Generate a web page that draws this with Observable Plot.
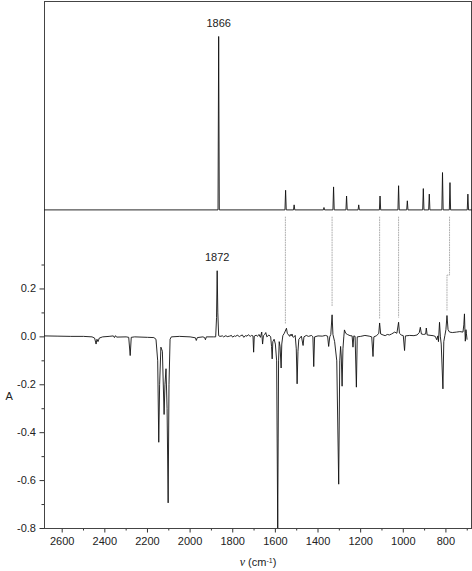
<!DOCTYPE html>
<html><head><meta charset="utf-8">
<script src="https://cdn.jsdelivr.net/npm/d3@7"></script>
<script src="https://cdn.jsdelivr.net/npm/@observablehq/plot@0.6"></script>
<style>body{margin:0;background:#fff}</style>
</head><body><div id="chart"></div>
<script>
// Calculated spectrum (top trace): peak positions (cm-1) and heights above its baseline
const calcBase = 0.53;
const calcV = [1866, 1552, 1512, 1372, 1327, 1266, 1209, 1109, 1022, 981, 906, 878, 816, 781, 697];
const calcH = [0.724, 0.082, 0.021, 0.010, 0.096, 0.058, 0.021, 0.058, 0.101, 0.038, 0.089, 0.066, 0.156, 0.114, 0.066];

// Experimental difference spectrum (bottom trace)
const expV = [2683,2620,2560,2500,2460,2448,2441,2437,2432,2426,2410,2380,2360,2355,2350,2345,2300,2288,2281,2276,2260,2200,2170,2160,2152,2147,2143,2137,2130,2122,2118,2113,2108,2103,2099,2094,2088,2050,2000,1975,1971,1966,1940,1932,1928,1924,1890,1880,1876,1873,1870,1866,1860,1848,1843,1832,1826,1815,1806,1801,1792,1786,1779,1768,1764,1755,1748,1741,1733,1727,1718,1712,1705,1702,1699,1690,1684,1677,1670,1664,1660,1656,1650,1645,1640,1630,1622,1618,1615,1612,1606,1600,1594,1589,1585,1582,1578,1573,1570,1565,1558,1548,1544,1538,1533,1530,1526,1522,1518,1515,1507,1502,1498,1494,1490,1485,1478,1470,1466,1455,1445,1430,1424,1420,1416,1400,1380,1365,1355,1350,1345,1340,1334,1330,1322,1312,1303,1298,1294,1291,1287,1283,1279,1276,1270,1262,1250,1240,1236,1232,1226,1220,1216,1200,1180,1160,1148,1142,1138,1125,1115,1111,1106,1095,1085,1075,1065,1055,1040,1030,1022,1018,1010,1000,994,990,970,950,935,925,920,915,905,895,892,888,870,860,850,843,838,835,830,826,822,814,810,805,800,795,790,783,770,750,735,720,716,713,711,709,706,704,701];
const expA = [0.004,0.003,0.002,0.002,0.000,-0.005,-0.030,-0.010,-0.020,-0.005,0.000,0.002,0.004,-0.003,0.005,-0.001,0.000,-0.002,-0.078,-0.002,0.000,-0.002,-0.003,-0.010,-0.100,-0.440,-0.200,-0.043,-0.060,-0.324,-0.200,-0.133,-0.300,-0.693,-0.200,-0.010,0.000,0.002,0.000,-0.004,-0.015,-0.003,0.000,-0.003,-0.012,0.000,0.000,0.000,0.080,0.276,0.100,0.005,0.002,0.004,0.000,0.005,0.001,0.003,0.006,-0.001,0.004,0.002,0.007,0.001,0.004,0.008,-0.002,0.005,0.003,0.009,0.002,0.006,0.004,-0.064,0.003,0.007,0.002,0.010,-0.002,0.020,-0.030,0.005,0.010,0.018,0.000,0.008,0.000,-0.040,-0.092,-0.020,-0.010,-0.030,-0.100,-0.800,-0.100,-0.020,-0.040,-0.130,-0.030,0.005,0.015,0.036,0.015,0.008,0.002,0.010,0.004,0.012,0.000,-0.002,0.006,-0.050,-0.196,-0.060,-0.010,-0.005,0.003,-0.036,0.000,0.006,0.002,0.006,0.000,-0.124,0.000,0.004,0.003,0.006,0.003,-0.040,0.000,0.010,0.092,0.010,-0.020,-0.100,-0.615,-0.100,-0.040,-0.080,-0.206,-0.050,0.000,0.029,0.015,0.010,0.005,0.004,-0.043,0.004,0.002,-0.210,0.000,0.002,0.006,0.003,0.000,-0.082,0.000,0.005,0.015,0.058,0.012,0.008,0.005,0.010,0.008,0.012,0.020,0.015,0.061,0.015,0.008,0.005,-0.057,0.004,0.006,0.005,0.008,0.018,0.040,0.012,0.010,0.012,0.037,0.008,0.006,0.005,0.002,-0.012,0.004,-0.020,0.061,0.000,-0.030,-0.217,-0.020,0.005,0.030,0.089,0.030,0.020,0.018,0.020,0.022,0.020,0.050,0.096,0.030,-0.018,0.030,0.015,-0.010];

// Dotted correlation lines between the two traces
const linkTopV = [1553, 1334, 1111, 1022, 783];
const linkBotV = [1553, 1334, 1111, 1022, 795];
const linkTopA = 0.50;
const linkBreakA = [0.054, 0.126, 0.078, 0.082, 0.258];
const linkEndA = [0.054, 0.126, 0.078, 0.082, 0.112];

// Peak labels
const peakLabels = ["1866", "1872"];
const peakLabelV = [1866, 1873];
const peakLabelA = [1.254, 0.276];

// Axes
const xMajor = [2600, 2400, 2200, 2000, 1800, 1600, 1400, 1200, 1000, 800];
const xMinor = [2500, 2300, 2100, 1900, 1700, 1500, 1300, 1100, 900, 700];
const yMajor = [-0.8, -0.6, -0.4, -0.2, 0.0, 0.2];
const yMinor = [-0.7, -0.5, -0.3, -0.1, 0.1, 0.3];
const xLabel = "ν (cm⁻¹)";
const yLabel = "A";

// Tables built from the arrays
const calc = [];
calcV.forEach((v, i) => {
  calc.push({v: v + 3, a: calcBase}, {v, a: calcBase + calcH[i]}, {v: v - 3, a: calcBase});
});
calc.unshift({v: 2683, a: calcBase});
calc.push({v: 680, a: calcBase});
const exp = expV.map((v, i) => ({v, a: expA[i]}));
const links = [];
linkTopV.forEach((v, i) => {
  links.push({k: i, v, a: linkTopA}, {k: i, v, a: linkBreakA[i]},
             {k: i, v: linkBotV[i], a: linkBreakA[i]}, {k: i, v: linkBotV[i], a: linkEndA[i]});
});
const labels = peakLabels.map((t, i) => ({t, v: peakLabelV[i], a: peakLabelA[i]}));

const chart = Plot.plot({
  width: 472, height: 571,
  marginLeft: 44, marginRight: 1, marginTop: 1, marginBottom: 43,
  x: {domain: [2683, 680], axis: null},
  y: {domain: [-0.8, 1.4], axis: null},
  style: {fontFamily: "'Liberation Sans', Arial, sans-serif", fontSize: "11px", background: "#fff", color: "#222"},
  marks: [
    Plot.axisX({ticks: xMajor, tickSize: 4.5, tickPadding: 4, tickFormat: d => String(d), label: null, stroke: "#333"}),
    Plot.axisX({ticks: xMinor, tickSize: 2.5, tickFormat: () => "", label: null, stroke: "#333"}),
    Plot.axisY({ticks: yMajor, tickSize: 4.5, tickPadding: 4, tickFormat: d => d.toFixed(1), label: null, stroke: "#333"}),
    Plot.axisY({ticks: yMinor, tickSize: 2.5, tickFormat: () => "", label: null, stroke: "#333"}),
    Plot.frame({stroke: "#444", strokeWidth: 1}),
    Plot.line(links, {x: "v", y: "a", z: "k", stroke: "#9a9a9a", strokeWidth: 0.8, strokeDasharray: "1,1.5", curve: "linear"}),
    Plot.line(calc, {x: "v", y: "a", stroke: "#111", strokeWidth: 0.9}),
    Plot.line(exp, {x: "v", y: "a", stroke: "#111", strokeWidth: 0.9, clip: true}),
    Plot.text(labels, {x: "v", y: "a", text: "t", dy: -13, fill: "#222", fontSize: 11}),
    Plot.text([yLabel], {frameAnchor: "left", y: [(yMajor[0] + yMinor[yMinor.length - 1]) / 2], text: d => d, dx: -39, fill: "#222", fontSize: 11}),
    Plot.text([xLabel], {frameAnchor: "bottom", text: d => d, dy: 37, fill: "#222", fontSize: 11, className: "xlab"})
  ]
});
document.getElementById("chart").append(chart);

// Render the x-axis title with an italic ν and a superscript −1
const t = chart.querySelector(".xlab text");
if (t) {
  t.textContent = "";
  const ns = "http://www.w3.org/2000/svg";
  const parts = [["ν", {"font-family": "'Liberation Serif', serif", "font-style": "italic", "font-size": "12px"}],
                 [" (cm", {}], ["-1", {"font-size": "7px", "baseline-shift": "super"}], [")", {}]];
  for (const [s, attrs] of parts) {
    const sp = document.createElementNS(ns, "tspan");
    sp.textContent = s;
    for (const k in attrs) sp.setAttribute(k, attrs[k]);
    t.appendChild(sp);
  }
}
</script></body></html>
